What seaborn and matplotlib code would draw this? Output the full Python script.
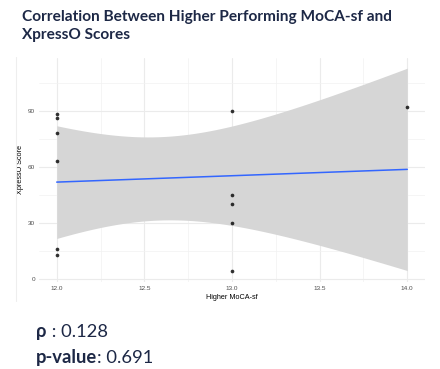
import numpy as np
import pandas as pd
import matplotlib
matplotlib.use("Agg")
import matplotlib.pyplot as plt
import seaborn as sns

# ---- data ----
moca = [12, 12, 12, 12, 12, 12, 13, 13, 13, 13, 13, 14]
xpresso = [88, 86, 78, 63, 16, 13, 90, 45, 40, 30, 4, 92]
x_ticks = [12.0, 12.5, 13.0, 13.5, 14.0]
y_ticks = [0, 30, 60, 90]
title_lines = ["Correlation Between Higher Performing MoCA-sf and", "XpressO Scores"]
rho_text = "0.128"
p_text = "0.691"

df = pd.DataFrame({"moca": moca, "xpresso": xpresso})

sns.set_theme(style="white")
plt.rcParams["font.family"] = ["Liberation Sans", "DejaVu Sans"]

W, H = 440, 369
fig = plt.figure(figsize=(W / 100, H / 100), dpi=100)
ax = fig.add_axes([39.2 / W, 1 - 281.6 / H, (424.8 - 39.2) / W, (281.6 - 58) / H])

# analytic 95% confidence band (as ggplot geom_smooth(method="lm"))
xa = np.array(moca, float)
ya = np.array(xpresso, float)
n = len(xa)
b1, b0 = np.polyfit(xa, ya, 1)
resid = ya - (b0 + b1 * xa)
s = np.sqrt(np.sum(resid ** 2) / (n - 2))
sxx = np.sum((xa - xa.mean()) ** 2)
xg = np.linspace(xa.min(), xa.max(), 200)
yg = b0 + b1 * xg
tval = 2.228138851986274  # t(0.975, df=10)
se = s * np.sqrt(1 / n + (xg - xa.mean()) ** 2 / sxx)
ax.fill_between(xg, yg - tval * se, yg + tval * se, color="#D6D6D6", lw=0, zorder=2)

sns.regplot(data=df, x="moca", y="xpresso", ci=None, ax=ax,
            scatter_kws=dict(s=7, color="black", linewidths=0, zorder=4),
            line_kws=dict(color="#3366FF", lw=1.1, zorder=3))

xr = 14 - 12
ax.set_xlim(12 - 0.05 * xr, 14 + 0.05 * xr)
ylo = min(ya.min(), (yg - tval * se).min())
yhi = max(ya.max(), (yg + tval * se).max())
yr = yhi - ylo
ax.set_ylim(ylo - 0.05 * yr, yhi + 0.05 * yr)

ax.set_xticks(x_ticks)
ax.set_xticklabels([f"{v:.1f}" for v in x_ticks])
ax.set_yticks(y_ticks)
ax.set_yticklabels([str(v) for v in y_ticks])
ax.set_xticks([12.25, 12.75, 13.25, 13.75], minor=True)
ax.set_yticks([15, 45, 75, 105], minor=True)
ax.grid(True, which="major", color="#EBEBEB", lw=0.8, zorder=0)
ax.grid(True, which="minor", color="#F2F2F2", lw=0.5, zorder=0)
ax.set_axisbelow(True)
for sp in ax.spines.values():
    sp.set_visible(False)
ax.tick_params(axis="both", which="both", length=0, labelsize=4.6,
               labelcolor="#4D4D4D", pad=3)
ax.set_xlabel("Higher MoCA-sf", fontsize=5.2, color="black", labelpad=2)
ax.set_ylabel("XpressO Score", fontsize=5.2, color="black", labelpad=3)

# faint edge of the embedded plot image
fig.add_artist(plt.Line2D([15.5 / W, 15.5 / W], [1 - 57 / H, 1 - 301 / H],
                          transform=fig.transFigure, color="#EEEEEE", lw=0.8))

navy = "#1D2846"
tfont = ["Lato", "DejaVu Sans"]
fig.text(21.5 / W, 1 - 20.5 / H, title_lines[0], family=tfont, fontweight="bold",
         fontsize=11.05, color=navy, va="baseline", ha="left")
fig.text(21.5 / W, 1 - 39.5 / H, title_lines[1], family=tfont, fontweight="bold",
         fontsize=11.05, color=navy, va="baseline", ha="left")

sfs = 13.2
t1 = fig.text(36 / W, 1 - 336.7 / H, "ρ", family=tfont, fontweight="bold",
              fontsize=sfs, color=navy, va="baseline", ha="left")
plt.annotate(" : " + rho_text, xy=(1, 0), xycoords=t1, va="bottom", ha="left",
             family=tfont, fontsize=sfs, color=navy, annotation_clip=False)
t2 = fig.text(36 / W, 1 - 362.7 / H, "p-value", family=tfont, fontweight="bold",
              fontsize=sfs, color=navy, va="baseline", ha="left")
plt.annotate(": " + p_text, xy=(1, 0), xycoords=t2, va="bottom", ha="left",
             family=tfont, fontsize=sfs, color=navy, annotation_clip=False)

fig.savefig("out.png", dpi=100)
